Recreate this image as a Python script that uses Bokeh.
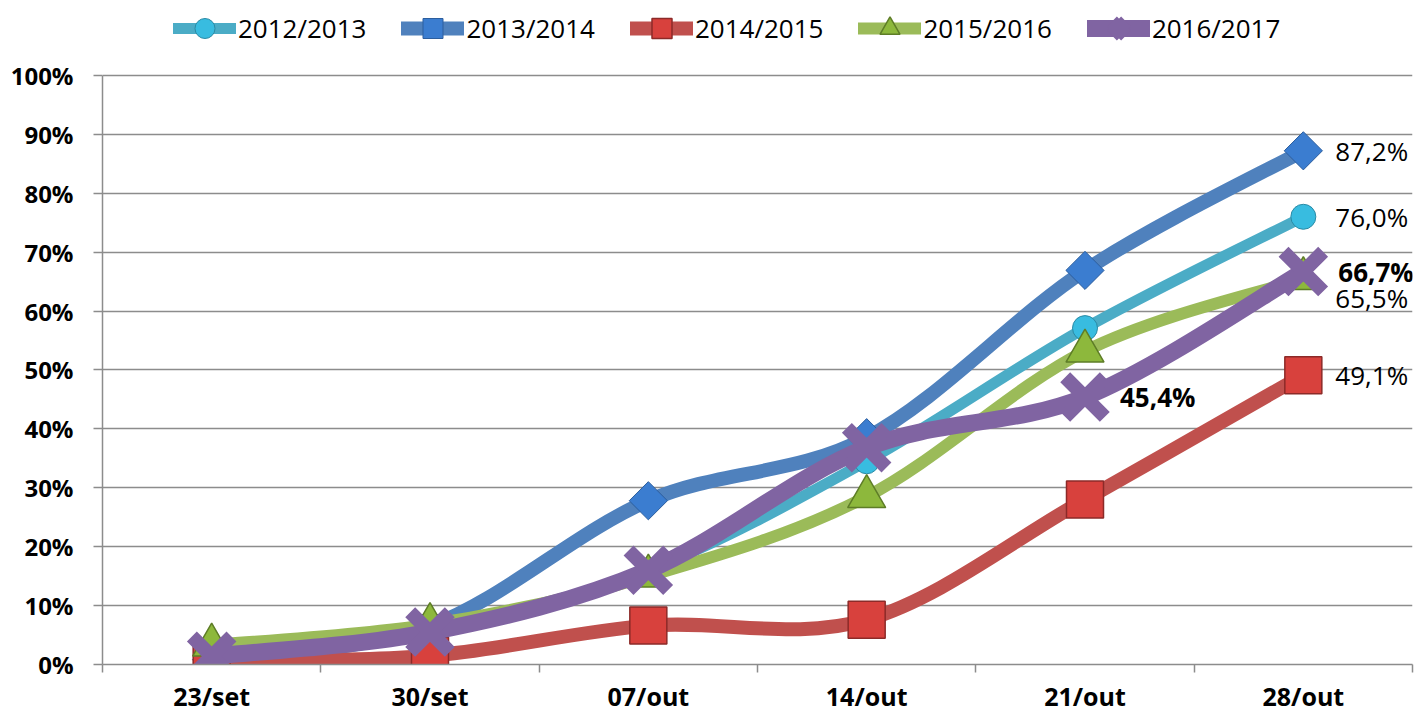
import numpy as np
from bokeh.plotting import figure
from bokeh.models import (Range1d, FixedTicker, NumeralTickFormatter, ColumnDataSource,
                          Legend, LegendItem)
from bokeh.core.properties import value
from bokeh.embed import file_html
from bokeh.resources import INLINE

# ---------------- data ----------------
categories = ["23/set", "30/set", "07/out", "14/out", "21/out", "28/out"]
series_names = ["2012/2013", "2013/2014", "2014/2015", "2015/2016", "2016/2017"]
s2012_2013 = [0.010, 0.060, 0.160, 0.345, 0.571, 0.760]
s2013_2014 = [0.008, 0.065, 0.278, 0.385, 0.669, 0.872]
s2014_2015 = [0.005, 0.015, 0.066, 0.076, 0.280, 0.491]
s2015_2016 = [0.033, 0.068, 0.150, 0.285, 0.532, 0.655]
s2016_2017 = [0.014, 0.055, 0.160, 0.368, 0.454, 0.667]
y_ticks = [0.0, 0.1, 0.2, 0.3, 0.4, 0.5, 0.6, 0.7, 0.8, 0.9, 1.0]

# labelled points: (series index -> category indices)
labelled = {0: [5], 1: [5], 2: [5], 3: [5], 4: [4, 5]}

series_vals = [s2012_2013, s2013_2014, s2014_2015, s2015_2016, s2016_2017]

# ---------------- styles ----------------
line_colors = ["#4BACC6", "#4F81BD", "#C0504D", "#9BBB59", "#8064A2"]
line_widths = [11, 14, 14, 12, 17]
marker_styles = [
    dict(marker="circle", size=25, fill_color="#38BCE0", line_color="#2A8AA5", line_width=1, angle=0.0),
    dict(marker="square", size=27, fill_color="#3B7DD0", line_color="#2C5E9E", line_width=1, angle=np.pi / 4),
    dict(marker="square", size=37, fill_color="#D8413D", line_color="#8C2A28", line_width=1.5, angle=0.0),
    dict(marker="triangle", size=38, fill_color="#8DB83C", line_color="#5E7D27", line_width=1.5, angle=0.0),
    dict(marker="x", size=56, fill_color="#8064A2", line_color="#8064A2", line_width=14, angle=0.0),
]
label_offsets = {0: (32, 0), 1: (32, 0), 2: (32, 0), 3: (32, 19), 4: (35, 0)}
label_bold = [False, False, False, False, True]

FONT = "Open Sans"

# layout (pixels): frame spans from the legend strip at the top down to the 0% line
FRAME_TOP, ZERO_Y, FULL_Y = 8, 665, 75          # screen y of frame top, 0% and 100%
y_top = (ZERO_Y - FRAME_TOP) / (ZERO_Y - FULL_Y)  # range end so 100% sits at FULL_Y

p = figure(width=1421, height=715, output_backend="svg", toolbar_location=None,
           x_range=Range1d(0, len(categories)), y_range=Range1d(0, y_top),
           min_border_left=102, min_border_right=9, min_border_top=FRAME_TOP,
           min_border_bottom=715 - ZERO_Y)
p.outline_line_color = None
p.background_fill_color = "white"
p.border_fill_color = "white"

# x axis: labels at category centres, tick marks at category boundaries
xc = [i + 0.5 for i in range(len(categories))]
p.xaxis.ticker = FixedTicker(ticks=xc, minor_ticks=list(range(len(categories) + 1)))
p.xaxis.major_label_overrides = {x: c for x, c in zip(xc, categories)}
p.xaxis.major_tick_line_color = None
p.xaxis.major_tick_out = 0
p.xaxis.major_tick_in = 0
p.xaxis.minor_tick_line_color = "#8c8c8c"
p.xaxis.minor_tick_line_width = 1.5
p.xaxis.minor_tick_out = 8
p.xaxis.minor_tick_in = 0
p.xaxis.major_label_standoff = 6
p.xaxis.axis_line_color = "#8c8c8c"
p.xaxis.axis_line_width = 1.5
p.xaxis.major_label_text_font = FONT
p.xaxis.major_label_text_font_style = "bold"
p.xaxis.major_label_text_font_size = "25px"
p.xaxis.major_label_text_color = "black"

p.yaxis.ticker = FixedTicker(ticks=y_ticks)
p.yaxis.bounds = (0, 1)
p.yaxis.formatter = NumeralTickFormatter(format="0%")
p.yaxis.minor_tick_line_color = None
p.yaxis.major_tick_line_color = "#8c8c8c"
p.yaxis.major_tick_line_width = 1.5
p.yaxis.major_tick_out = 9
p.yaxis.major_tick_in = 0
p.yaxis.major_label_standoff = 20
p.yaxis.axis_line_color = "#8c8c8c"
p.yaxis.axis_line_width = 1.5
p.yaxis.major_label_text_font = FONT
p.yaxis.major_label_text_font_style = "bold"
p.yaxis.major_label_text_font_size = "24px"
p.yaxis.major_label_text_color = "black"

p.xgrid.visible = False
p.ygrid.ticker = FixedTicker(ticks=y_ticks)
p.ygrid.grid_line_color = "#8c8c8c"
p.ygrid.grid_line_width = 1.5


def smooth_segments(xs, ys):
    """Catmull-Rom style Bezier control points between consecutive points."""
    n = len(xs)
    x0, y0, x1, y1, cx0, cy0, cx1, cy1 = ([] for _ in range(8))
    for i in range(n - 1):
        pm = max(i - 1, 0)
        pp = min(i + 2, n - 1)
        x0.append(xs[i]); y0.append(ys[i])
        x1.append(xs[i + 1]); y1.append(ys[i + 1])
        cx0.append(xs[i] + (xs[i + 1] - xs[pm]) / 6.0)
        cy0.append(ys[i] + (ys[i + 1] - ys[pm]) / 6.0)
        cx1.append(xs[i + 1] - (xs[pp] - xs[i]) / 6.0)
        cy1.append(ys[i + 1] - (ys[pp] - ys[i]) / 6.0)
    return dict(x0=x0, y0=y0, x1=x1, y1=y1, cx0=cx0, cy0=cy0, cx1=cx1, cy1=cy1)


items = []
for k, (name, vals) in enumerate(zip(series_names, series_vals)):
    seg = ColumnDataSource(smooth_segments(xc, vals))
    lr = p.bezier(x0="x0", y0="y0", x1="x1", y1="y1", cx0="cx0", cy0="cy0",
                  cx1="cx1", cy1="cy1", source=seg, line_color=line_colors[k],
                  line_width=line_widths[k], line_cap="round")
    ms = marker_styles[k]
    mr = p.scatter(x=xc, y=vals, marker=ms["marker"], size=ms["size"],
                   fill_color=ms["fill_color"], line_color=ms["line_color"],
                   line_width=ms["line_width"], angle=ms["angle"])
    items.append(LegendItem(label=name, renderers=[lr, mr]))

# data labels
for k, idxs in labelled.items():
    vals = series_vals[k]
    lx = [xc[i] for i in idxs]
    ly = [vals[i] for i in idxs]
    txt = [("%.1f" % (vals[i] * 100)).replace(".", ",") + "%" for i in idxs]
    dx, dy = label_offsets[k]
    p.text(x=lx, y=ly, text=txt, x_offset=dx, y_offset=dy,
           text_font=value(FONT), text_font_size="26px",
           text_font_style="bold" if label_bold[k] else "normal",
           text_color="black", text_align="left", text_baseline="middle")

# legend strip above the 100% line (inside the frame, so it is not clipped)
LEG_H = 50
LEG_CENTER_Y = 29
legend = Legend(items=items, orientation="horizontal",
                location=(71, ZERO_Y - LEG_CENTER_Y - LEG_H // 2))
legend.glyph_width = 63
legend.glyph_height = LEG_H
legend.label_standoff = 2
legend.spacing = 35
legend.padding = 0
legend.margin = 0
legend.border_line_color = None
legend.background_fill_alpha = 0
legend.label_text_font = FONT
legend.label_text_font_size = "26px"
legend.label_text_color = "black"
p.add_layout(legend, "center")

open("out.html", "w").write(file_html(p, INLINE))
